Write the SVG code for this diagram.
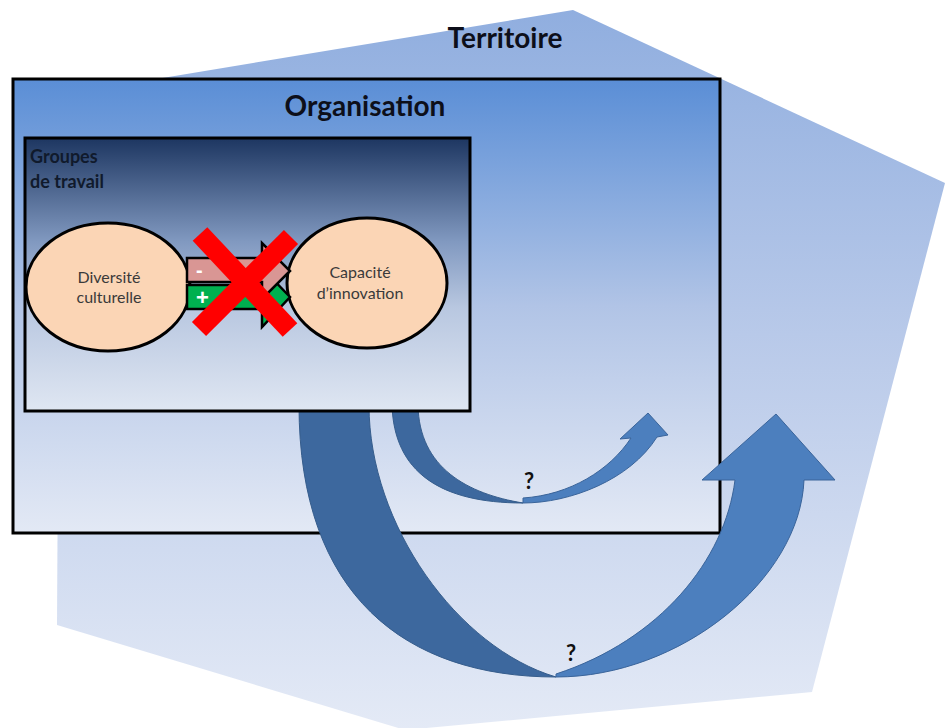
<svg xmlns="http://www.w3.org/2000/svg" width="945" height="728" viewBox="0 0 945 728">
  <defs>
    <linearGradient id="gTerr" x1="0" y1="0" x2="0" y2="1">
      <stop offset="0" stop-color="#90aedf"/>
      <stop offset="0.45" stop-color="#b8c9e9"/>
      <stop offset="1" stop-color="#e4eaf6"/>
    </linearGradient>
    <linearGradient id="gOrg" x1="0" y1="0" x2="0" y2="1">
      <stop offset="0" stop-color="#5a8ed6"/>
      <stop offset="0.5" stop-color="#b1c4e6"/>
      <stop offset="1" stop-color="#e3e9f5"/>
    </linearGradient>
    <linearGradient id="gGrp" x1="0" y1="0" x2="0" y2="1">
      <stop offset="0" stop-color="#1d3661"/>
      <stop offset="0.38" stop-color="#8199c0"/>
      <stop offset="0.62" stop-color="#b8c7e0"/>
      <stop offset="1" stop-color="#dfe6f2"/>
    </linearGradient>
    <style>
      .title { font-family: Lato, "Liberation Sans", sans-serif; font-weight: bold; font-size: 28px; fill: #0d0f1a; text-anchor: middle; }
      .grp { font-family: Lato, "Liberation Sans", sans-serif; font-weight: bold; font-size: 18px; fill: #101a2c; }
      .ell { fill: #fbd5b5; stroke: #000; stroke-width: 3; }
      .lbl { font-family: Lato, "Liberation Sans", sans-serif; font-size: 16px; fill: #3a3a3a; text-anchor: middle; }
      .box { stroke: #000; stroke-width: 3; }
      .dark { fill: #3d689e; stroke: #365d8c; stroke-width: 1; }
      .light { fill: #4c7fbe; stroke: #3a649a; stroke-width: 1; }
      .q { font-family: Lato, "Liberation Sans", sans-serif; font-weight: bold; font-size: 22px; fill: #111; text-anchor: middle; }
      .sign { font-family: "Liberation Sans", sans-serif; font-weight: bold; fill: #fff; }
      .cross { stroke: #ff0000; stroke-width: 20; stroke-linecap: butt; }
    </style>
  </defs>

  <g id="territoire">
    <polygon points="573,10 945,183 812,692 405,730 57,625 60,95" fill="url(#gTerr)"/>
    <text class="title" x="505" y="48">Territoire</text>
  </g>

  <g id="organisation">
    <rect class="box" x="13" y="79" width="707" height="454" fill="url(#gOrg)"/>
    <text class="title" x="365" y="116">Organisation</text>
  </g>

  <g id="connectors">
    <g id="big-arrow">
      <path class="dark" d="M299,405 C299,595 405,677 556,677 C458,648 369,525 369,405 Z"/>
      <path class="light" d="M556,677 C680,677 800,580 804,480 L835,480 L776,414 L702,480 L735,480 C725,560 660,640 556,674 Z"/>
    </g>
    <g id="small-arrow">
      <path class="dark" d="M392,405 C394,472 440,503 523,503 C468,494 419,468 418,405 Z"/>
      <path class="light" d="M523,503 C570,503 630,480 657,437 L668,435 L648,413 L620,439 L631,438 C610,470 570,495 523,498 Z"/>
    </g>
  </g>

  <g id="groupes">
    <rect class="box" x="25" y="138" width="445" height="273" fill="url(#gGrp)"/>
    <text class="grp" x="30" y="163">Groupes</text>
    <text class="grp" x="30" y="188">de travail</text>
  </g>

  <g id="diversite">
    <ellipse class="ell" cx="108" cy="287" rx="82" ry="64"/>
    <text class="lbl" x="109" y="283">Diversité</text>
    <text class="lbl" x="109" y="303">culturelle</text>
  </g>

  <g id="capacite">
    <ellipse class="ell" cx="367" cy="283" rx="80" ry="65"/>
    <text class="lbl" x="360" y="278">Capacité</text>
    <text class="lbl" x="360" y="299">d’innovation</text>
  </g>

  <g id="relation">
    <polygon points="187,285 262,285 262,268 290,297 262,327 262,309 187,309" fill="#00b050" stroke="#000" stroke-width="2.5" stroke-linejoin="miter"/>
    <polygon points="187,258 262,258 262,243 290,271 262,299 262,282 187,282" fill="#d99694" stroke="#000" stroke-width="2.5" stroke-linejoin="miter"/>
    <text class="sign" x="196" y="277" font-size="20">-</text>
    <text class="sign" x="196" y="305" font-size="22">+</text>
    <line class="cross" x1="200" y1="234" x2="290" y2="330"/>
    <line class="cross" x1="291" y1="237" x2="199" y2="329"/>
  </g>

  <g id="labels">
    <text class="q" x="529" y="489">?</text>
    <text class="q" x="571" y="661">?</text>
  </g>
</svg>
